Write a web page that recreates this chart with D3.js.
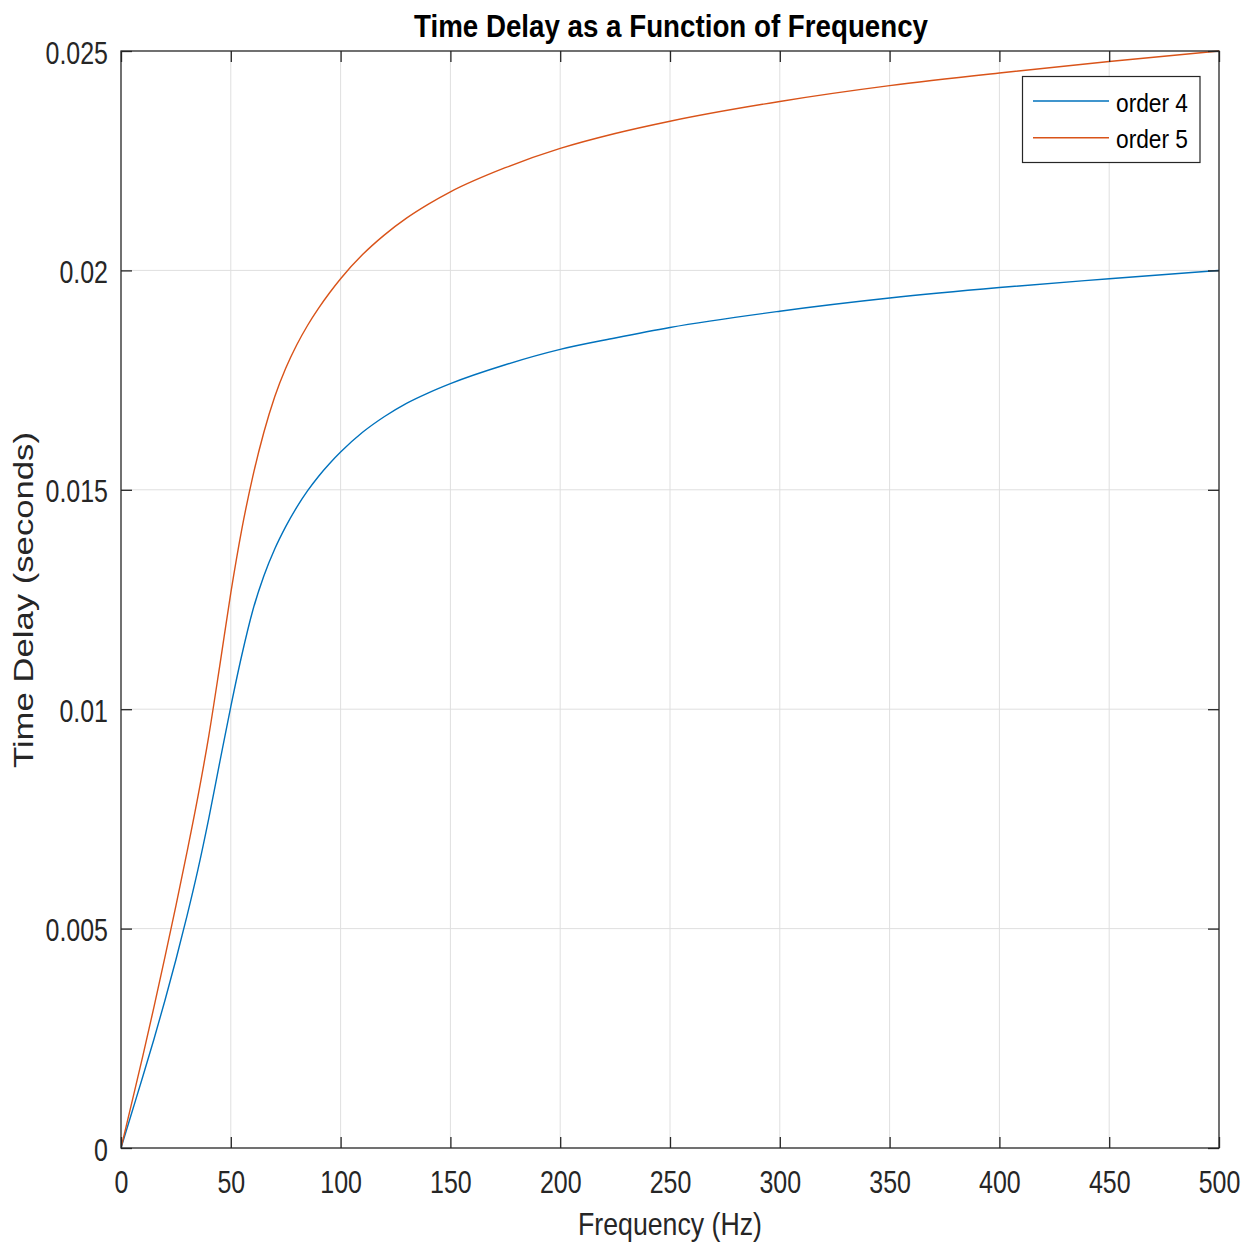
<!DOCTYPE html>
<html>
<head>
<meta charset="utf-8">
<script src="https://cdn.jsdelivr.net/npm/d3@7"></script>
<style>
  html, body { margin: 0; padding: 0; background: #fff; }
  svg { display: block; font-family: "Liberation Sans", Arial, Helvetica, sans-serif; }
</style>
</head>
<body>
<svg id="chart" width="1253" height="1250"></svg>
<script>
// Frequency samples (Hz) and time delay (s) for each filter order
const freq = [0, 5, 10, 15, 20, 25, 30, 35, 40, 45, 50, 55, 60, 65, 70, 75, 80, 85, 90, 95,
              100, 110, 120, 130, 140, 150, 175, 200, 225, 250, 300, 350, 400, 450, 500];
const order4 = [0, 0.00082, 0.00164, 0.00248, 0.00336, 0.00429, 0.00528, 0.00634, 0.00752, 0.00880,
                0.01006, 0.01123, 0.01225, 0.01303, 0.01365, 0.01416, 0.01460, 0.01498, 0.01531, 0.01560,
                0.01586, 0.01631, 0.01667, 0.01697, 0.01721, 0.01742, 0.01785, 0.01820, 0.01846, 0.01870,
                0.01907, 0.01937, 0.01961, 0.01981, 0.02000];
const order5 = [0, 0.00105, 0.00211, 0.00321, 0.00435, 0.00552, 0.00673, 0.00800, 0.00940, 0.01100,
                0.01265, 0.01410, 0.01530, 0.01630, 0.01712, 0.01777, 0.01830, 0.01875, 0.01914, 0.01949,
                0.01981, 0.02036, 0.02081, 0.02119, 0.02151, 0.02179, 0.02234, 0.02278, 0.02312, 0.02340,
                0.02385, 0.02421, 0.02450, 0.02476, 0.02500];
const seriesNames = ["order 4", "order 5"];
const seriesColors = ["#0072BD", "#D95319"];
const xTicks = [0, 50, 100, 150, 200, 250, 300, 350, 400, 450, 500];
const yTicks = [0, 0.005, 0.01, 0.015, 0.02, 0.025];
const yTickLabels = ["0", "0.005", "0.01", "0.015", "0.02", "0.025"];

const svg = d3.select("#chart");
const plotL = 121, plotR = 1219, plotT = 51, plotB = 1148;
const axisColor = "#262626";

const x = d3.scaleLinear().domain([0, 500]).range([plotL, plotR]);
const y = d3.scaleLinear().domain([0, 0.025]).range([plotB, plotT]);

// squeeze text horizontally to the narrow letterforms of the figure
function squeeze(sel, k) {
  sel.each(function () {
    const w = this.getComputedTextLength();
    d3.select(this).attr("textLength", w * k).attr("lengthAdjust", "spacingAndGlyphs");
  });
}

// plot background
svg.append("rect").attr("x", plotL).attr("y", plotT)
  .attr("width", plotR - plotL).attr("height", plotB - plotT).attr("fill", "#fff");

// grid
const grid = svg.append("g").attr("stroke", "#dfdfdf").attr("stroke-width", 1);
grid.selectAll("line.gx").data(xTicks.slice(1, -1)).join("line").attr("class", "gx")
  .attr("x1", d => x(d)).attr("x2", d => x(d)).attr("y1", plotT).attr("y2", plotB);
grid.selectAll("line.gy").data(yTicks.slice(1, -1)).join("line").attr("class", "gy")
  .attr("x1", plotL).attr("x2", plotR).attr("y1", d => y(d)).attr("y2", d => y(d));

// curves
const line = d3.line().x(d => x(d[0])).y(d => y(d[1])).curve(d3.curveMonotoneX);
const series = [order4, order5];
const defs = svg.append("defs");
defs.append("clipPath").attr("id", "plotClip").append("rect")
  .attr("x", plotL).attr("y", plotT - 2).attr("width", plotR - plotL + 1).attr("height", plotB - plotT + 3);
svg.append("g").attr("clip-path", "url(#plotClip)")
  .selectAll("path").data(series).join("path")
  .attr("d", s => line(freq.map((f, i) => [f, s[i]])))
  .attr("fill", "none")
  .attr("stroke", (d, i) => seriesColors[i])
  .attr("stroke-width", 1.4);

// axes with inward ticks on all four sides
const tickLen = 11;
const xAxisB = d3.axisBottom(x).tickValues(xTicks).tickSizeInner(-tickLen).tickSizeOuter(0).tickFormat(d3.format("d"));
const xAxisT = d3.axisTop(x).tickValues(xTicks).tickSizeInner(-tickLen).tickSizeOuter(0).tickFormat("");
const yAxisL = d3.axisLeft(y).tickValues(yTicks).tickSizeInner(-tickLen).tickSizeOuter(0)
  .tickFormat((d, i) => yTickLabels[i]);
const yAxisR = d3.axisRight(y).tickValues(yTicks).tickSizeInner(-tickLen).tickSizeOuter(0).tickFormat("");

function styleAxis(g) {
  g.select(".domain").remove();
  g.selectAll(".tick line").attr("stroke", axisColor).attr("stroke-width", 1.3);
  g.selectAll(".tick text").attr("fill", axisColor).attr("font-size", 32);
}

const gxb = svg.append("g").attr("transform", `translate(0,${plotB})`).call(xAxisB).call(styleAxis);
gxb.selectAll(".tick text").attr("dy", null).attr("y", 45);
const gyl = svg.append("g").attr("transform", `translate(${plotL},0)`).call(yAxisL).call(styleAxis);
gyl.selectAll(".tick text").attr("dy", null).attr("y", 12).attr("x", -13);
svg.append("g").attr("transform", `translate(0,${plotT})`).call(xAxisT).call(styleAxis);
svg.append("g").attr("transform", `translate(${plotR},0)`).call(yAxisR).call(styleAxis);
gxb.attr("font-family", null);
gyl.attr("font-family", null);
squeeze(gxb.selectAll(".tick text"), 0.78);
squeeze(gyl.selectAll(".tick text"), 0.78);

// frame
svg.append("rect").attr("x", plotL).attr("y", plotT)
  .attr("width", plotR - plotL).attr("height", plotB - plotT)
  .attr("fill", "none").attr("stroke", axisColor).attr("stroke-width", 1.3);

// title and axis labels
svg.append("text").attr("x", 671).attr("y", 37).attr("text-anchor", "middle")
  .attr("font-size", 32).attr("font-weight", "bold").attr("fill", "#000")
  .attr("textLength", 514).attr("lengthAdjust", "spacingAndGlyphs")
  .text("Time Delay as a Function of Frequency");
svg.append("text").attr("x", 670).attr("y", 1235).attr("text-anchor", "middle")
  .attr("font-size", 32).attr("fill", axisColor)
  .attr("textLength", 184).attr("lengthAdjust", "spacingAndGlyphs")
  .text("Frequency (Hz)");
svg.append("text").attr("transform", "translate(33,600) rotate(-90)").attr("text-anchor", "middle")
  .attr("font-size", 28).attr("fill", axisColor)
  .attr("textLength", 336).attr("lengthAdjust", "spacingAndGlyphs")
  .text("Time Delay (seconds)");

// legend
const legend = svg.append("g");
legend.append("rect").attr("x", 1022.5).attr("y", 76.5).attr("width", 177.5).attr("height", 86)
  .attr("fill", "#fff").attr("stroke", axisColor).attr("stroke-width", 1.2);
const items = legend.selectAll("g.item").data(seriesNames).join("g").attr("class", "item")
  .attr("transform", (d, i) => `translate(0,${101 + i * 36.7})`);
items.append("line").attr("x1", 1033).attr("x2", 1109).attr("y1", 0).attr("y2", 0)
  .attr("stroke", (d, i) => seriesColors[i]).attr("stroke-width", 1.4);
items.append("text").attr("x", 1116).attr("y", 10.7).attr("font-size", 25).attr("fill", "#000")
  .attr("textLength", 72).attr("lengthAdjust", "spacingAndGlyphs")
  .text(d => d);
</script>
</body>
</html>
